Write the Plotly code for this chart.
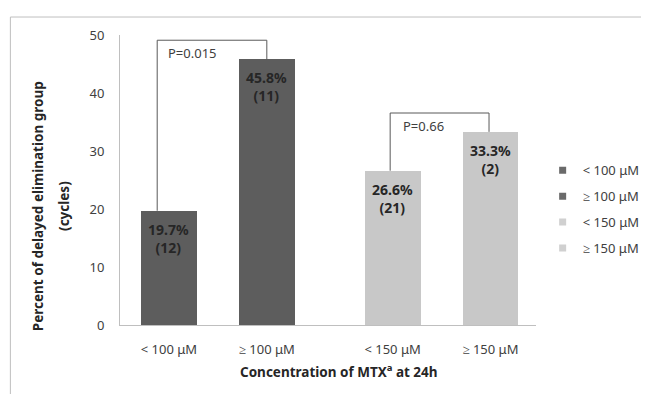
import plotly.graph_objects as go

categories = ["< 100 μM", "≥ 100 μM", "< 150 μM", "≥ 150 μM"]
percent = [19.7, 45.8, 26.6, 33.3]
cycles = [12, 11, 21, 2]
p_values = ["P=0.015", "P=0.66"]
y_ticks = [0, 10, 20, 30, 40, 50]

dark = "#5d5d5d"
light = "#c8c8c8"
colors = [dark, dark, light, light]
legend_colors = ["#6a6a6a", "#6a6a6a", "#d0d0d0", "#d0d0d0"]

# x positions: two groups with an extra gap between them
group_gap = 0.285
xpos = [i + (group_gap if i >= 2 else 0) for i in range(len(categories))]

FONT = "Noto Sans"
fig = go.Figure()

fig.add_trace(go.Bar(
    x=xpos, y=percent, width=0.57,
    marker=dict(color=colors, line=dict(width=0)),
    showlegend=False, hoverinfo="skip",
))

for i, c in enumerate(categories):
    fig.add_trace(go.Scatter(
        x=[None], y=[None], mode="markers", name=c,
        marker=dict(symbol="square", size=7, color=legend_colors[i]),
        legendgroup=f"g{i}",
    ))

# value labels inside bars
for x, v, n in zip(xpos, percent, cycles):
    fig.add_annotation(x=x, y=v, text=f"<b>{v}%<br>({n})</b>", showarrow=False,
                       xanchor="center", yanchor="top", yshift=-7,
                       font=dict(family=FONT, size=14, color="#262626"))

# significance brackets
line = dict(color="#595959", width=1)
b1_top = 49.1
b2_top = 36.55
fig.add_shape(type="line", x0=xpos[0] - 0.12, x1=xpos[0] - 0.12, y0=percent[0], y1=b1_top, line=line)
fig.add_shape(type="line", x0=xpos[0] - 0.12, x1=xpos[1], y0=b1_top, y1=b1_top, line=line)
fig.add_shape(type="line", x0=xpos[1], x1=xpos[1], y0=b1_top, y1=percent[1], line=line)
fig.add_shape(type="line", x0=xpos[2] - 0.025, x1=xpos[2] - 0.025, y0=percent[2], y1=b2_top, line=line)
fig.add_shape(type="line", x0=xpos[2] - 0.025, x1=xpos[3] - 0.015, y0=b2_top, y1=b2_top, line=line)
fig.add_shape(type="line", x0=xpos[3] - 0.015, x1=xpos[3] - 0.015, y0=b2_top, y1=percent[3], line=line)

fig.add_annotation(x=xpos[0] - 0.03, y=46.9, text=p_values[0], showarrow=False,
                   xanchor="left", yanchor="middle",
                   font=dict(family=FONT, size=13, color="#404040"))
fig.add_annotation(x=xpos[2] + 0.085, y=34.3, text=p_values[1], showarrow=False,
                   xanchor="left", yanchor="middle",
                   font=dict(family=FONT, size=13, color="#404040"))

# axis titles
fig.add_annotation(xref="paper", yref="paper", x=-0.197, y=0.41,
                   text="<b>Percent of delayed elimination group</b>",
                   textangle=-90, showarrow=False, xanchor="center", yanchor="middle",
                   font=dict(family=FONT, size=13.5, color="#262626"))
fig.add_annotation(xref="paper", yref="paper", x=-0.135, y=0.41,
                   text="<b>(cycles)</b>",
                   textangle=-90, showarrow=False, xanchor="center", yanchor="middle",
                   font=dict(family=FONT, size=13.5, color="#262626"))
fig.add_annotation(xref="paper", yref="paper", x=0.527, y=-0.158,
                   text="<b>Concentration of MTX<sup>a</sup> at 24h</b>",
                   showarrow=False, xanchor="center", yanchor="middle",
                   font=dict(family=FONT, size=13.5, color="#262626"))

# outer frame
fig.add_shape(type="rect", xref="paper", yref="paper",
              x0=-0.2635, x1=1.4, y0=-0.4, y1=1.062,
              line=dict(color="#bfbfbf", width=1), layer="below")

fig.update_layout(
    width=649, height=394,
    margin=dict(l=112, r=112, t=27, b=77),
    paper_bgcolor="white", plot_bgcolor="white",
    bargap=0,
    font=dict(family=FONT, size=13, color="#404040"),
    xaxis=dict(range=[-0.5, 3.75], tickvals=xpos, ticktext=categories,
               showgrid=False, zeroline=False, showline=True, linecolor="#bfbfbf",
               ticks="outside", ticklen=12, tickcolor="rgba(0,0,0,0)",
               tickfont=dict(family=FONT, size=13, color="#404040")),
    yaxis=dict(range=[0, 50], tickvals=y_ticks, showgrid=False, zeroline=False,
               showline=True, linecolor="#bfbfbf",
               ticks="outside", ticklen=12, tickcolor="rgba(0,0,0,0)",
               tickfont=dict(family=FONT, size=13, color="#404040")),
    legend=dict(x=1.016, y=0.585, xanchor="left", yanchor="top",
                font=dict(family=FONT, size=13, color="#404040"),
                tracegroupgap=6, itemwidth=30, bgcolor="rgba(0,0,0,0)"),
    showlegend=True,
)

fig.write_html("out.html")
